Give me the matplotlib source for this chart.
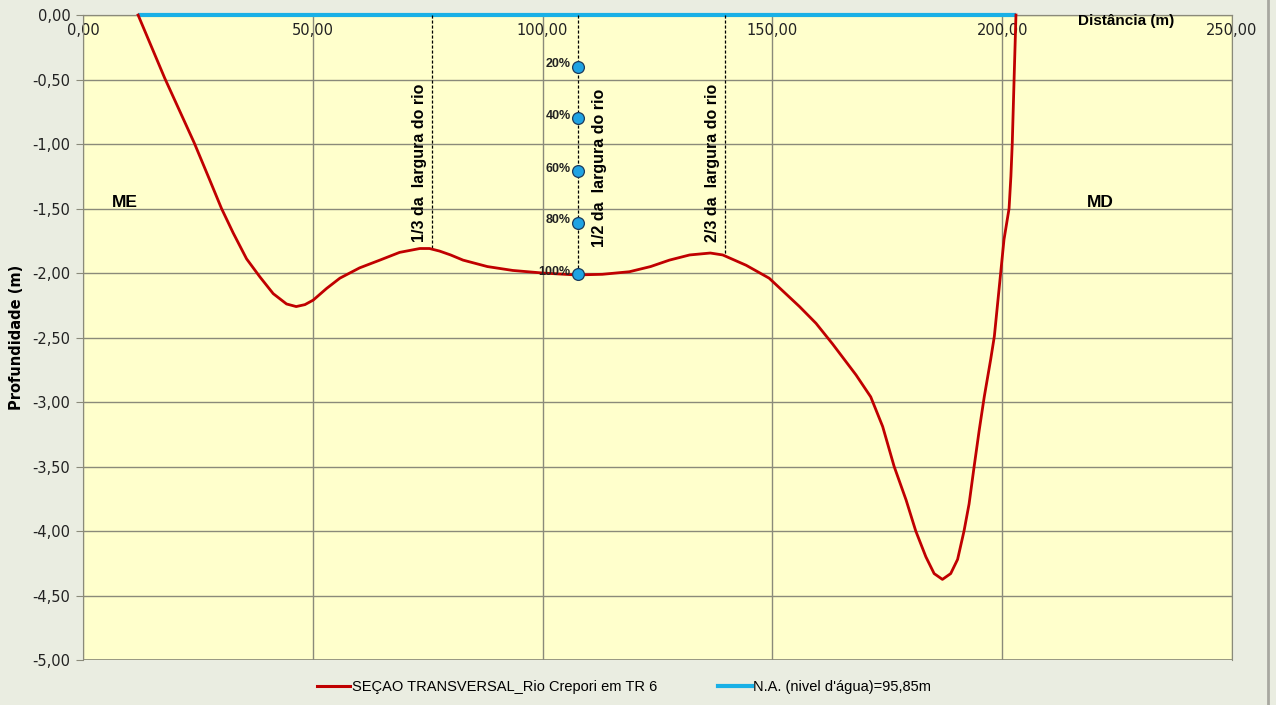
import numpy as np
import matplotlib.pyplot as plt
from matplotlib.ticker import FuncFormatter, MultipleLocator
from matplotlib.lines import Line2D

# cross-section (distance m, depth m)
DIST = [12.0, 17.8, 24.2, 27.6, 30.15, 32.7, 35.6, 38.5, 41.4, 44.3, 46.4, 48.3,
        50.1, 53.0, 55.9, 60.2, 64.6, 68.9, 73.3, 75.4, 77.6, 80.0, 82.7, 88.0,
        93.5, 100.0, 107.3, 113.0, 118.9, 123.5, 127.6, 132.0, 136.5, 139.2,
        144.3, 149.3, 155.9, 159.5, 163.1, 168.2, 171.4, 174.0, 176.5, 179.1,
        181.2, 183.4, 185.2, 187.0, 188.8, 190.3, 191.7, 192.8, 193.9, 195.0,
        196.1, 197.5, 198.3, 199.7, 200.4, 201.5, 201.9, 202.2, 202.4, 202.6, 203.0]
DEPTH = [0.00, -0.49, -0.99, -1.28, -1.50, -1.69, -1.89, -2.03, -2.16, -2.24,
         -2.26, -2.245, -2.21, -2.12, -2.04, -1.96, -1.90, -1.84, -1.81, -1.81,
         -1.83, -1.86, -1.90, -1.95, -1.98, -2.00, -2.015, -2.01, -1.99, -1.95,
         -1.90, -1.86, -1.845, -1.86, -1.94, -2.04, -2.26, -2.39, -2.55, -2.79,
         -2.96, -3.19, -3.50, -3.76, -4.00, -4.20, -4.33, -4.375, -4.33, -4.22,
         -4.00, -3.79, -3.50, -3.22, -2.96, -2.67, -2.49, -1.99, -1.74, -1.50,
         -1.25, -0.99, -0.74, -0.49, 0.00]

NA_X = [12.0, 203.0]
NA_Y = [0.0, 0.0]

# verticals (1/3, 1/2, 2/3 of river width) and depth at each
VERT_X = [75.9, 107.75, 139.7]
VERT_BOTTOM = [-1.81, -2.01, -1.86]
VERT_LABELS = ['1/3 da  largura do rio', '1/2 da  largura do rio', '2/3 da  largura do rio']

PCT_LABELS = ['20%', '40%', '60%', '80%', '100%']
PCT_DEPTH = [-0.40, -0.80, -1.21, -1.61, -2.01]

BG = '#EAEDE1'
PLOT_BG = '#FFFFCC'
GRID = '#8A8A7A'
RED = '#C00000'
BLUE = '#19B0E6'

plt.rcParams['font.family'] = ['DejaVu Sans']

fig = plt.figure(figsize=(12.76, 7.05), dpi=100, facecolor=BG)
ax = fig.add_axes([0.065, 0.0638, 0.9005, 0.9149])
ax.set_facecolor(PLOT_BG)

ax.set_xlim(0, 250)
ax.set_ylim(-5, 0)
ax.xaxis.set_major_locator(MultipleLocator(50))
ax.yaxis.set_major_locator(MultipleLocator(0.5))
fmt = FuncFormatter(lambda v, p: f'{v:.2f}'.replace('.', ','))
ax.xaxis.set_major_formatter(fmt)
ax.yaxis.set_major_formatter(fmt)
ax.grid(True, color=GRID, lw=1.0)
ax.set_axisbelow(True)

# x axis crosses at depth 0, labels sit just under it
ax.spines['bottom'].set_position(('data', 0))
ax.spines['bottom'].set_color(GRID)
for s in ['left', 'right', 'top']:
    ax.spines[s].set_color(GRID)
ax.tick_params(axis='x', length=0, pad=6, labelsize=10.5, colors='#222222')
ax.tick_params(axis='y', length=5, color=GRID, labelsize=10.5, colors='#222222', pad=4)
ax.axhline(-5, color=GRID, lw=1.2)

ax.plot(NA_X, NA_Y, color=BLUE, lw=3, solid_capstyle='butt', zorder=3, clip_on=False)
ax.plot(DIST, DEPTH, color=RED, lw=2, zorder=4, solid_joinstyle='round', clip_on=False)

for xv, yb in zip(VERT_X, VERT_BOTTOM):
    ax.plot([xv, xv], [0, yb], color='black', lw=0.9, ls=(0, (2.5, 1.5)), zorder=3)

ax.text(VERT_X[0] - 1.0, -1.76, VERT_LABELS[0], rotation=90, ha='right', va='bottom',
        fontsize=11.5, fontweight='bold', family='Liberation Sans')
ax.text(VERT_X[1] + 3.0, -1.80, VERT_LABELS[1], rotation=90, ha='left', va='bottom',
        fontsize=11.5, fontweight='bold', family='Liberation Sans')
ax.text(VERT_X[2] - 1.0, -1.76, VERT_LABELS[2], rotation=90, ha='right', va='bottom',
        fontsize=11.5, fontweight='bold', family='Liberation Sans')

ax.plot([VERT_X[1]] * len(PCT_DEPTH), PCT_DEPTH, ls='none', marker='o', ms=8.5,
        mfc='#1FA3E3', mec='#1B3A5C', mew=0.9, zorder=6)
for lab, d in zip(PCT_LABELS, PCT_DEPTH):
    ax.text(VERT_X[1] - 1.6, d + 0.02, lab, ha='right', va='center', fontsize=9,
            fontweight='bold', family='Liberation Sans', color='#222222', zorder=5)

ax.text(6.3, -1.45, 'ME', fontsize=12.5, fontweight='bold', family='Liberation Sans', va='center')
ax.text(218.5, -1.45, 'MD', fontsize=12.5, fontweight='bold', family='Liberation Sans', va='center')
ax.text(227, -0.05, 'Distância (m)', ha='center', fontsize=11, fontweight='bold',
        family='Liberation Sans', va='center')

ax.set_ylabel('Profundidade (m)', fontsize=10.5, fontweight='bold', labelpad=6)

handles = [Line2D([], [], color=RED, lw=2.2), Line2D([], [], color=BLUE, lw=3)]
fig.legend(handles, ['SEÇAO TRANSVERSAL_Rio Crepori em TR 6', "N.A. (nivel d'água)=95,85m"],
           loc='center', bbox_to_anchor=(0.489, 0.025), ncol=2, frameon=False,
           handlelength=2.3, handletextpad=0.1, columnspacing=4.2,
           prop={'family': ['Liberation Sans Narrow', 'Liberation Sans'], 'size': 10.5})

fig.add_artist(Line2D([0.9935, 0.9935], [0, 1], transform=fig.transFigure,
                      color='#A8A8A0', lw=2))

fig.savefig('out.png', dpi=100, facecolor=BG)
